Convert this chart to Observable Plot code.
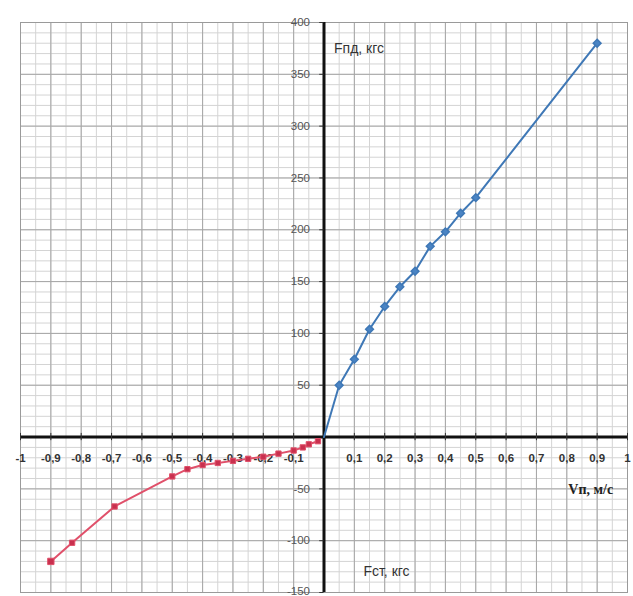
<!DOCTYPE html>
<html><head><meta charset="utf-8">
<script src="https://cdn.jsdelivr.net/npm/d3@7"></script>
<script src="https://cdn.jsdelivr.net/npm/@observablehq/plot@0.6"></script>
<style>body{margin:0;background:#fff}</style>
</head><body><div id="chart"></div>
<script>
// Positive branch (blue): speed V, m/s -> force F, kgf
const posV = [0, 0.05, 0.1, 0.15, 0.2, 0.25, 0.3, 0.35, 0.4, 0.45, 0.5, 0.9];
const posF = [0, 50, 75, 104, 126, 145, 160, 184, 198, 216, 231, 380];
// Negative branch (red)
const negV = [-0.9, -0.83, -0.69, -0.5, -0.45, -0.4, -0.35, -0.3, -0.25, -0.2, -0.15, -0.1, -0.07, -0.05, -0.02];
const negF = [-120, -102, -67, -38, -31, -27, -25, -23, -21, -19, -16, -13, -10, -7, -4];
// Tick values and labels
const xTickValues = [-1, -0.9, -0.8, -0.7, -0.6, -0.5, -0.4, -0.3, -0.2, -0.1, 0.1, 0.2, 0.3, 0.4, 0.5, 0.6, 0.7, 0.8, 0.9, 1];
const xTickLabels = ["-1", "-0,9", "-0,8", "-0,7", "-0,6", "-0,5", "-0,4", "-0,3", "-0,2", "-0,1", "0,1", "0,2", "0,3", "0,4", "0,5", "0,6", "0,7", "0,8", "0,9", "1"];
const yTickValues = [-150, -100, -50, 50, 100, 150, 200, 250, 300, 350, 400];
const yTickLabels = ["-150", "-100", "-50", "50", "100", "150", "200", "250", "300", "350", "400"];
const titleTop = "Fпд, кгс";
const titleBottom = "Fст, кгс";
const titleRight = "Vп, м/с";

const pos = posV.map((v, i) => ({v, f: posF[i]}));
const neg = negV.map((v, i) => ({v, f: negF[i]}));
const xt = xTickValues.map((v, i) => ({v, label: xTickLabels[i]}));
const yt = yTickValues.map((v, i) => ({v, label: yTickLabels[i]}));

const minorX = d3.range(-20, 21).map(i => i * 0.05);
const majorX = d3.range(-10, 11).map(i => i * 0.1);
const minorY = d3.range(-15, 41).map(i => i * 10);
const majorY = d3.range(-3, 9).map(i => i * 50);

const chart = Plot.plot({
  width: 633,
  height: 596,
  marginLeft: 20,
  marginRight: 6,
  marginTop: 22,
  marginBottom: 4,
  x: {domain: [-1, 1], axis: null},
  y: {domain: [-150, 400], axis: null},
  style: {fontFamily: "'Liberation Sans', Arial, sans-serif", fontSize: "11px", background: "#fff"},
  marks: [
    Plot.ruleX(minorX, {x: d => d, stroke: "#d4d4d4", strokeWidth: 1}),
    Plot.ruleY(minorY, {y: d => d, stroke: "#d4d4d4", strokeWidth: 1}),
    Plot.ruleX(majorX, {x: d => d, stroke: "#a6a6a6", strokeWidth: 1}),
    Plot.ruleY(majorY, {y: d => d, stroke: "#a6a6a6", strokeWidth: 1}),
    Plot.frame({stroke: "#9a9a9a"}),
    // axes
    Plot.ruleY([0], {stroke: "#111", strokeWidth: 3}),
    Plot.ruleX([0], {stroke: "#111", strokeWidth: 3}),
    Plot.ruleX(xt, {x: "v", y1: -3.5, y2: 3.5, stroke: "#333", strokeWidth: 1}),
    Plot.ruleY(yt, {y: "v", x1: -0.014, x2: 0, stroke: "#333", strokeWidth: 1}),
    // tick labels
    Plot.text(xt, {x: "v", y: 0, text: "label", dy: 21, fill: "#333", fontWeight: "bold", fontSize: 11.5}),
    Plot.text(yt.filter(d => d.v !== -150), {x: 0, y: "v", text: "label", dx: -14, textAnchor: "end", fill: "#555", fontSize: 11.5}),
    Plot.text(yt.filter(d => d.v === -150), {x: 0, y: "v", text: "label", dx: -14, textAnchor: "end", lineAnchor: "bottom", dy: 2, fill: "#555", fontSize: 11.5}),
    // data
    Plot.line(neg, {x: "v", y: "f", stroke: "#e0506a", strokeWidth: 2}),
    Plot.dot(neg, {x: "v", y: "f", symbol: "square", r: d => d.v === -0.9 ? 5 : 3.5, fill: "#c8304e", stroke: "#e0506a", strokeWidth: 1}),
    Plot.line(pos, {x: "v", y: "f", stroke: "#3f78b6", strokeWidth: 2}),
    Plot.dot(pos.filter(d => d.v > 0), {x: "v", y: "f", symbol: "diamond2", r: 3.5, fill: "#4a84c4", stroke: "#3f78b6"}),
    // titles
    Plot.text([titleTop], {x: 0.033, y: 375, text: d => d, textAnchor: "start", fontSize: 14, fill: "#333"}),
    Plot.text([titleBottom], {x: 0.13, y: -130, text: d => d, textAnchor: "start", fontSize: 14, fill: "#333"}),
    Plot.text([titleRight], {x: 0.805, y: -51, text: d => d, textAnchor: "start", fontSize: 14, fontWeight: "bold", fontFamily: "'Liberation Serif', 'DejaVu Serif', serif", fill: "#222"})
  ]
});
document.getElementById("chart").appendChild(chart);
</script>
</body></html>
